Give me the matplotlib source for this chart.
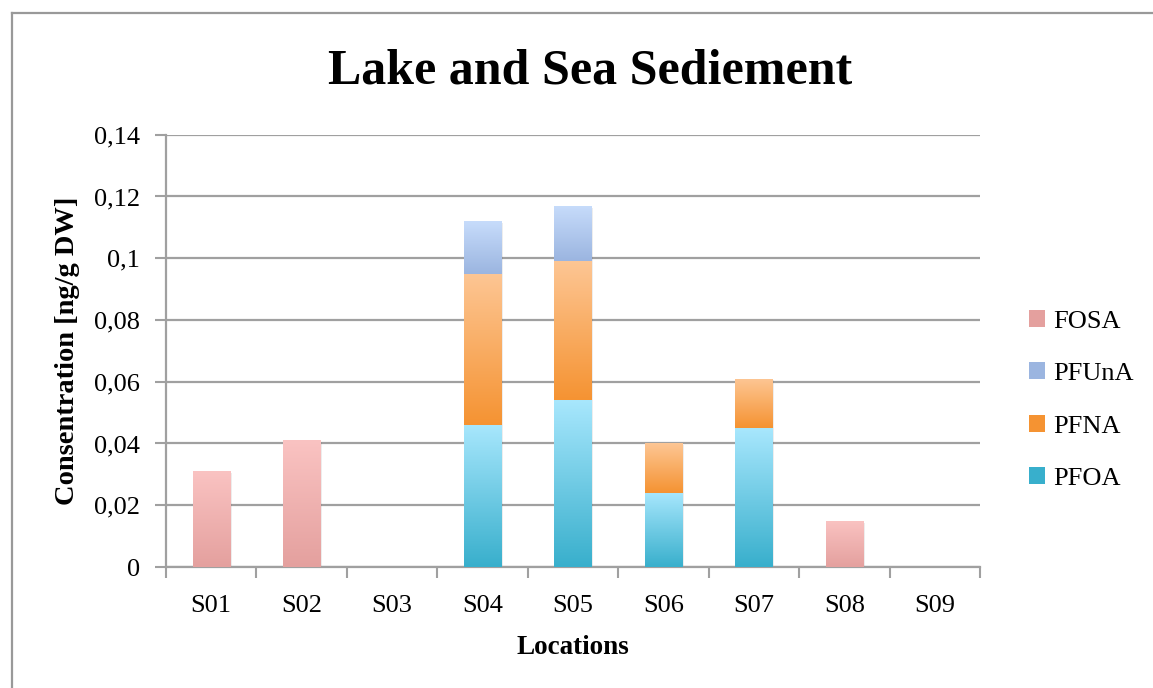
import numpy as np
import matplotlib
matplotlib.use("Agg")
import matplotlib.pyplot as plt
from matplotlib.colors import LinearSegmentedColormap
from matplotlib.patches import Patch
from matplotlib.lines import Line2D

# ---- data ----
locations = ["S01", "S02", "S03", "S04", "S05", "S06", "S07", "S08", "S09"]
PFOA = [0.0, 0.0, 0.0, 0.046, 0.054, 0.024, 0.045, 0.0, 0.0]
PFNA = [0.0, 0.0, 0.0, 0.049, 0.045, 0.016, 0.016, 0.0, 0.0]
PFUnA = [0.0, 0.0, 0.0, 0.017, 0.018, 0.0, 0.0, 0.0, 0.0]
FOSA = [0.031, 0.041, 0.0, 0.0, 0.0, 0.0, 0.0, 0.015, 0.0]
series_names = ["PFOA", "PFNA", "PFUnA", "FOSA"]
yticks = [0, 0.02, 0.04, 0.06, 0.08, 0.1, 0.12, 0.14]
ytick_labels = ["0", "0,02", "0,04", "0,06", "0,08", "0,1", "0,12", "0,14"]

# gradient colours (top, bottom)
grad = {
    "PFOA": ("#A8E7FD", "#38AFCC"),
    "PFNA": ("#FDC694", "#F59332"),
    "PFUnA": ("#C7DCFB", "#9BB5E0"),
    "FOSA": ("#FAC3C2", "#E4A09E"),
}

FONT = "Liberation Serif"
plt.rcParams["font.family"] = [FONT, "DejaVu Serif"]

W, H = 1153, 688
fig = plt.figure(figsize=(W / 100, H / 100), dpi=100)
ax = fig.add_axes([166 / W, 1 - 567 / H, (980 - 166) / W, (567 - 134.7) / H])

x = np.arange(len(locations))
bw = 0.41
bottom = np.zeros(len(locations))
values = {"PFOA": PFOA, "PFNA": PFNA, "PFUnA": PFUnA, "FOSA": FOSA}
grad_img = np.linspace(1, 0, 256).reshape(-1, 1)
for name in series_names:
    vals = np.array(values[name])
    bars = ax.bar(x, vals, bw, bottom=bottom, color=grad[name][1], zorder=3,
                  linewidth=0)
    cmap = LinearSegmentedColormap.from_list(name, [grad[name][1], grad[name][0]])
    for b in bars:
        if b.get_height() <= 0:
            continue
        x0, y0 = b.get_x(), b.get_y()
        w, h = b.get_width(), b.get_height()
        # soft shadow
        ax.bar(x0 + w / 2 + 0.02, h, w, bottom=y0 - 0.0006, color="#000000",
               alpha=0.07, zorder=2.5, linewidth=0)
        im = ax.imshow(grad_img, cmap=cmap, aspect="auto",
                       extent=[x0, x0 + w, y0, y0 + h], zorder=4,
                       interpolation="bilinear", vmin=0, vmax=1)
        im.set_clip_path(b)
    bottom = bottom + vals

ax.set_xlim(-0.5, len(locations) - 0.5)
ax.set_ylim(0, 0.14)
ax.set_yticks(yticks)
ax.set_yticklabels(ytick_labels)
ax.set_xticks(x)
ax.set_xticklabels(locations)
ax.set_xticks(np.arange(-0.5, len(locations)), minor=True)
ax.tick_params(axis="x", which="major", length=0, pad=20, labelsize=19)
ax.tick_params(axis="x", which="minor", length=8, width=1.5, color="#A0A0A0")
ax.tick_params(axis="y", length=8, width=1.5, color="#A0A0A0", pad=10.5,
               labelsize=19)
ax.grid(axis="y", color="#A0A0A0", linewidth=1.6, zorder=1)
ax.set_axisbelow(True)
for s in ["top", "right"]:
    ax.spines[s].set_visible(False)
for s in ["left", "bottom"]:
    ax.spines[s].set_color("#A0A0A0")
    ax.spines[s].set_linewidth(1.6)

ax.set_ylabel("Consentration [ng/g DW]", fontsize=20.5, fontweight="bold",
              labelpad=10)
ax.set_xlabel("Locations", fontsize=19.5, fontweight="bold", labelpad=13)

fig.text(590 / W, 1 - 72 / H, "Lake and Sea Sediement", fontsize=36,
         fontweight="bold", ha="center", va="center")

# legend (reverse order)
handles = [Patch(facecolor=grad[n][1], edgecolor="none") for n in reversed(series_names)]
ax.legend(handles, list(reversed(series_names)), loc="center left",
          bbox_to_anchor=(1018 / W, 1 - 400 / H), bbox_transform=fig.transFigure,
          frameon=False, fontsize=19, handlelength=0.62, handleheight=0.62,
          handletextpad=0.3, labelspacing=1.12, borderaxespad=0)

# outer chart border
fig.add_artist(Line2D([12 / W, 12 / W], [1 - 13 / H, 0], color="#999999",
                      linewidth=1.6, transform=fig.transFigure))
fig.add_artist(Line2D([12 / W, 1], [1 - 13 / H, 1 - 13 / H], color="#999999",
                      linewidth=1.6, transform=fig.transFigure))

fig.savefig("out.png", dpi=100)
